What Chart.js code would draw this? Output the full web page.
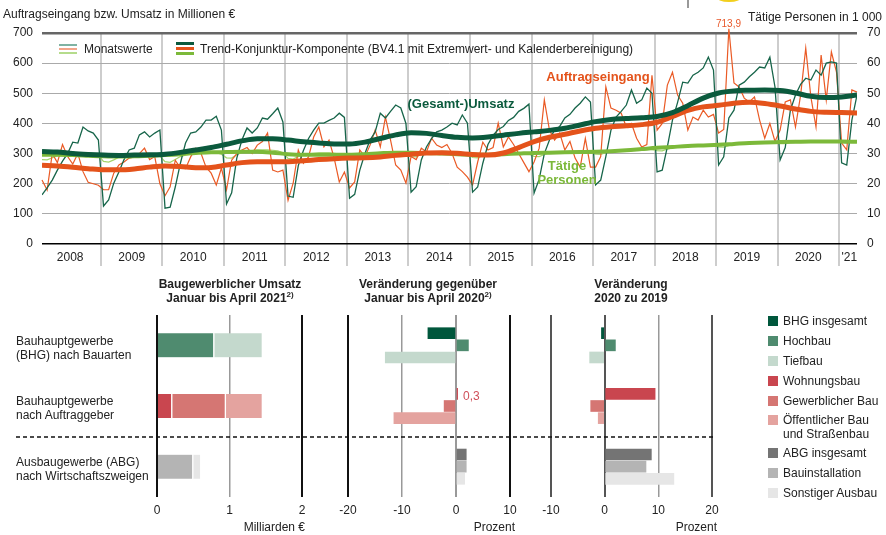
<!DOCTYPE html>
<html lang="de">
<head>
<meta charset="UTF-8">
<title>Baugewerbe</title>
<script src="https://cdn.jsdelivr.net/npm/chart.js@4.4.1/dist/chart.umd.min.js"></script>
<style>
  body { margin: 0; background: #fff; }
  #wrap { position: relative; width: 886px; height: 535px; overflow: hidden; font-family: "Liberation Sans", Arial, sans-serif; color: #222; font-size: 12px; }
  #wrap canvas { position: absolute; }
  .t { position: absolute; white-space: nowrap; line-height: 14px; }
  .b { font-weight: bold; }
  .c { text-align: center; width: 240px; }
  .r { text-align: right; }
  sup { font-size: 8px; line-height: 0; vertical-align: 5px; }
  .ln { position: absolute; }
  .sq { position: absolute; width: 10px; height: 10px; }
</style>
</head>
<body>
<div id="wrap">
  <canvas id="top" width="886" height="275" style="left:0;top:0"></canvas>
  <canvas id="p1" width="175" height="205" style="left:142px;top:315px"></canvas>
  <canvas id="p2" width="192" height="205" style="left:333px;top:315px"></canvas>
  <canvas id="p3" width="191" height="205" style="left:536px;top:315px"></canvas>

  <svg style="position:absolute;left:0;top:0" width="886" height="535">
    <line x1="16" y1="437" x2="716" y2="437" stroke="#111" stroke-width="1.3" stroke-dasharray="4 3"/>
  </svg>

  <!-- Kopf oben -->
  <div class="ln" style="left:687px;top:0;width:1.5px;height:8px;background:#999"></div>
  <div class="ln" style="left:716px;top:-9px;width:26px;height:11px;border-radius:50%;background:#f2cf1d"></div>
  <div class="t" style="left:3px;top:7px">Auftragseingang bzw. Umsatz in Millionen €</div>
  <div class="t" style="right:4px;top:10px">Tätige Personen in 1 000</div>
  <div class="t" style="left:716px;top:17px;font-size:10px;color:#e8582a">713,9</div>

  <!-- Legende oben -->
  <div class="ln" style="left:59px;top:44px;width:18px;height:1.6px;background:#7fb3a3"></div>
  <div class="ln" style="left:59px;top:48px;width:18px;height:1.6px;background:#f2a58a"></div>
  <div class="ln" style="left:59px;top:52px;width:18px;height:1.6px;background:#b5dc8c"></div>
  <div class="t" style="left:84px;top:42px">Monatswerte</div>
  <div class="ln" style="left:176px;top:42px;width:18px;height:3px;background:#0b5a3d"></div>
  <div class="ln" style="left:176px;top:47px;width:18px;height:3px;background:#e4531b"></div>
  <div class="ln" style="left:176px;top:52px;width:18px;height:3px;background:#7cb93a"></div>
  <div class="t" style="left:200px;top:42px">Trend-Konjunktur-Komponente (BV4.1 mit Extremwert- und Kalenderbereinigung)</div>

  <!-- Reihenbeschriftung -->
  <div class="t b c" style="left:341px;top:97px;font-size:13px;color:#0b5a3d">(Gesamt-)Umsatz</div>
  <div class="t b c" style="left:478px;top:70px;font-size:13px;color:#e4531b">Auftragseingang</div>
  <div class="t b c" style="left:447px;top:159px;font-size:13px;color:#7cb93a">Tätige</div>
  <div class="t b c" style="left:447px;top:173px;font-size:13px;color:#7cb93a">Personen</div>

  <!-- Titel unten -->
  <div class="t b c" style="left:110px;top:277px">Baugewerblicher Umsatz</div>
  <div class="t b c" style="left:110px;top:291px">Januar bis April 2021<sup>2)</sup></div>
  <div class="t b c" style="left:308px;top:277px">Veränderung gegenüber</div>
  <div class="t b c" style="left:308px;top:291px">Januar bis April 2020<sup>2)</sup></div>
  <div class="t b c" style="left:511px;top:277px">Veränderung</div>
  <div class="t b c" style="left:511px;top:291px">2020 zu 2019</div>

  <div class="t" style="left:16px;top:334px">Bauhauptgewerbe</div>
  <div class="t" style="left:16px;top:348px">(BHG) nach Bauarten</div>
  <div class="t" style="left:16px;top:394px">Bauhauptgewerbe</div>
  <div class="t" style="left:16px;top:408px">nach Auftraggeber</div>
  <div class="t" style="left:16px;top:455px">Ausbaugewerbe (ABG)</div>
  <div class="t" style="left:16px;top:469px">nach Wirtschaftszweigen</div>

  <div class="t r" style="right:581px;top:520px">Milliarden €</div>
  <div class="t r" style="right:371px;top:520px">Prozent</div>
  <div class="t r" style="right:169px;top:520px">Prozent</div>
  <div class="t" style="left:463px;top:389px;color:#d0505a">0,3</div>

  <div id="legende"></div>
</div>

<script>
// ---------- Daten oben: Monatswerte Jan 2008 bis Apr 2021 ----------
var umsatz = [
  163, 186, 212, 245, 275, 300, 338, 335, 388, 375, 368, 345,   // 2008
  126, 146, 202, 239, 280, 312, 318, 362, 372, 355, 368, 378,   // 2009
  119, 122, 189, 268, 335, 368, 372, 388, 411, 411, 424, 378,   // 2010
  133, 170, 285, 345, 385, 368, 385, 418, 414, 432, 451, 405,   // 2011
  159, 155, 260, 310, 350, 378, 401, 401, 410, 418, 434, 420,   // 2012
  152, 165, 245, 300, 345, 372, 434, 418, 440, 461, 451, 400,   // 2013
  172, 190, 279, 322, 350, 372, 378, 388, 401, 395, 428, 401,   // 2014
  172, 189, 268, 330, 360, 380, 390, 410, 420, 440, 450, 464,   // 2015
  169, 215, 300, 345, 378, 390, 418, 430, 451, 467, 488, 471,   // 2016
  196, 212, 290, 378, 421, 440, 461, 511, 467, 478, 517, 500,   // 2017
  239, 245, 322, 411, 470, 537, 534, 560, 570, 584, 620, 577,   // 2018
  262, 289, 418, 444, 527, 537, 555, 570, 587, 584, 620, 521,   // 2019
  279, 320, 444, 494, 530, 550, 544, 577, 560, 600, 604, 600,   // 2020
  269, 262, 411, 494                                            // 2021
];
var auftrag = [
  212, 179, 300, 270, 330, 290, 265, 300, 240, 205, 200, 195,
  180, 180, 235, 262, 272, 285, 289, 300, 318, 280, 290, 200,
  160, 190, 278, 252, 250, 289, 318, 302, 255, 235, 196, 252,
  180, 278, 300, 312, 320, 300, 328, 340, 368, 245, 239, 245,
  145, 202, 312, 268, 289, 355, 388, 322, 345, 285, 206, 239,
  186, 206, 312, 289, 328, 378, 322, 421, 345, 262, 245, 202,
  290, 280, 318, 305, 351, 328, 320, 330, 300, 255, 240, 222,
  196, 272, 338, 312, 320, 401, 322, 355, 330, 300, 270, 240,
  272, 318, 478, 378, 345, 368, 312, 340, 285, 255, 350, 255,
  255, 290, 521, 451, 444, 434, 388, 400, 351, 322, 330, 560,
  378, 400, 527, 570, 494, 467, 378, 421, 411, 444, 421, 430,
  368, 380, 713.9, 534, 521, 484, 471, 488, 411, 351, 400, 340,
  378, 471, 478, 388, 494, 650, 488, 388, 627, 478, 637, 570,
  335, 312, 511, 504
];
var personen = [
  28.0, 27.9, 28.6, 29.3, 29.6, 29.8, 30.0, 30.1, 30.2, 30.2, 30.0, 29.4,
  27.4, 27.2, 27.9, 28.8, 29.2, 29.4, 29.6, 29.8, 29.9, 29.9, 29.7, 29.2,
  27.3, 27.1, 28.0, 29.0, 29.5, 29.8, 30.1, 30.3, 30.4, 30.5, 30.3, 29.8,
  28.6, 28.5, 29.6, 30.4, 30.8, 31.0, 31.2, 31.2, 31.2, 31.1, 30.9, 30.3,
  28.4, 28.2, 29.0, 29.6, 29.9, 30.1, 30.2, 30.2, 30.2, 30.1, 29.9, 29.4,
  28.0, 27.9, 28.6, 29.4, 29.8, 30.0, 30.1, 30.2, 30.2, 30.1, 30.0, 29.6,
  29.0, 28.9, 29.8, 30.3, 30.5, 30.6, 30.7, 30.7, 30.6, 30.5, 30.3, 29.9,
  28.7, 28.6, 29.3, 29.8, 30.0, 30.1, 30.2, 30.3, 30.3, 30.3, 30.2, 29.9,
  29.1, 29.0, 29.7, 30.2, 30.4, 30.5, 30.6, 30.7, 30.7, 30.7, 30.6, 30.3,
  29.8, 29.7, 30.3, 30.7, 30.9, 31.0, 31.2, 31.4, 31.5, 31.6, 31.6, 31.3,
  31.0, 30.9, 31.5, 31.9, 32.1, 32.3, 32.5, 32.6, 32.7, 32.8, 32.8, 32.5,
  32.2, 32.1, 32.6, 33.0, 33.2, 33.4, 33.5, 33.6, 33.7, 33.8, 33.8, 33.5,
  33.3, 33.3, 33.7, 33.9, 34.0, 34.1, 34.1, 34.2, 34.2, 34.2, 34.1, 33.9,
  33.6, 33.5, 33.9, 34.1
];

// Trend-Konjunktur-Komponente, Stützstellen je Quartal (Monatsindex ab Jan 2008)
var trendMonat = [0, 3, 6, 9, 12, 15, 18, 21, 24, 27, 30, 33, 36, 39, 42, 45, 48, 51, 54, 57,
  60, 63, 66, 69, 72, 75, 78, 81, 84, 87, 90, 93, 96, 99, 102, 105, 108, 111, 114, 117,
  120, 123, 126, 129, 132, 135, 138, 141, 144, 147, 150, 153, 156, 159];
var umsatzTrend = [307, 305, 300, 297, 295, 294, 295, 296, 298, 304, 312, 320, 331, 342, 349, 349, 345, 339, 335, 332,
  332, 338, 350, 362, 369, 367, 360, 354, 352, 355, 361, 367, 372, 377, 384, 395, 406, 413, 416, 419,
  423, 436, 459, 484, 501, 508, 510, 511, 509, 501, 490, 486, 488, 494];
var auftragTrend = [261, 259, 255, 250, 246, 246, 249, 255, 259, 257, 253, 254, 262, 270, 273, 273, 273, 276, 280, 283,
  285, 286, 289, 294, 298, 302, 303, 301, 297, 295, 302, 320, 340, 354, 364, 375, 384, 389, 392, 396,
  404, 423, 443, 455, 460, 467, 470, 466, 458, 448, 440, 437, 436, 435];
var personenTrend = [29.6, 29.6, 29.5, 29.3, 29.1, 29.0, 29.1, 29.3, 29.5, 29.8, 30.2, 30.4, 30.5, 30.6, 30.6, 30.3, 29.8, 29.6, 29.6, 29.6,
  29.6, 29.8, 30.1, 30.3, 30.3, 30.2, 30.0, 29.8, 29.6, 29.6, 29.8, 30.0, 30.2, 30.3, 30.4, 30.5, 30.6, 30.8, 31.1, 31.5,
  31.9, 32.2, 32.5, 32.7, 32.9, 33.2, 33.5, 33.7, 33.8, 33.9, 34.0, 34.0, 34.0, 33.9];

var ersterJahr = 2008;

// ---------- Daten unten ----------
var zeilen = ['', 'BHG insgesamt', 'Hochbau', 'Tiefbau', '', '', 'Wohnungsbau', 'Gewerblicher Bau',
  'Öffentlicher Bau und Straßenbau', '', '', 'ABG insgesamt', 'Bauinstallation', 'Sonstiger Ausbau', ''];
var farben = {
  'BHG insgesamt': '#00573c', 'Hochbau': '#4f8b6f', 'Tiefbau': '#c4d9cd',
  'Wohnungsbau': '#c9464f', 'Gewerblicher Bau': '#d57673', 'Öffentlicher Bau und Straßenbau': '#e4a39f',
  'ABG insgesamt': '#747474', 'Bauinstallation': '#b4b4b4', 'Sonstiger Ausbau': '#e6e6e6'
};

// Umsatz Jan-Apr 2021 in Mrd. €, gestapelt je Gruppe
var umsatzTeile = ['Hochbau', 'Tiefbau', 'Wohnungsbau', 'Gewerblicher Bau', 'Öffentlicher Bau und Straßenbau', 'Bauinstallation', 'Sonstiger Ausbau'];
var umsatzMrd = [0.79, 0.67, 0.21, 0.74, 0.51, 0.50, 0.11];
var umsatzGruppe = ['BHG', 'BHG', 'AG', 'AG', 'AG', 'ABG', 'ABG'];
var gruppenZeile = { BHG: 2, AG: 7, ABG: 12 };

// Veränderung in %
var veraenderung2021 = [null, -5.2, 2.3, -13.1, null, null, 0.3, -2.2, -11.5, null, null, 1.9, 1.9, 1.6, null];
var veraenderung2020 = [null, -0.6, 2.0, -2.8, null, null, 9.4, -2.6, -1.2, null, null, 8.7, 7.7, 12.9, null];

Chart.defaults.font.family = '"Liberation Sans", Arial, sans-serif';
Chart.defaults.font.size = 12;
Chart.defaults.color = '#222';

function punkte(werte, monate) {
  return werte.map(function (v, i) { return { x: (monate ? monate[i] : i) + 0.5, y: v }; });
}

// Achsenmarken: Jahresgrenzen (Gitter) und Jahresmitten (Beschriftung)
var jahrTicks = [];
for (var m = 6; m <= 156; m += 6) jahrTicks.push(m);
jahrTicks.push(158);

new Chart(document.getElementById('top'), {
  type: 'line',
  data: {
    datasets: [
      { data: punkte(umsatzTrend, trendMonat), borderColor: '#0b5a3d', borderWidth: 5, yAxisID: 'y', order: 0, cubicInterpolationMode: 'monotone' },
      { data: punkte(auftragTrend, trendMonat), borderColor: '#e4531b', borderWidth: 5, yAxisID: 'y', order: 1, cubicInterpolationMode: 'monotone' },
      { data: punkte(personenTrend, trendMonat), borderColor: '#7cb93a', borderWidth: 4, yAxisID: 'y2', order: 2, cubicInterpolationMode: 'monotone' },
      { data: punkte(umsatz), borderColor: '#17654a', borderWidth: 1.3, yAxisID: 'y', order: 3 },
      { data: punkte(auftrag), borderColor: '#ea5a25', borderWidth: 1.2, yAxisID: 'y', order: 4, clip: false },
      { data: punkte(personen), borderColor: '#a3d36a', borderWidth: 1.2, yAxisID: 'y2', order: 5 }
    ]
  },
  options: {
    responsive: false,
    animation: false,
    elements: { point: { radius: 0 }, line: { tension: 0 } },
    layout: { padding: { top: 33, left: 0, right: 0, bottom: 0 } },
    plugins: { legend: { display: false }, tooltip: { enabled: false } },
    scales: {
      x: {
        type: 'linear', min: 0.5, max: 159.5,
        afterBuildTicks: function (s) { s.ticks = jahrTicks.map(function (v) { return { value: v }; }); },
        afterFit: function (s) { s.height = 31; },
        grid: {
          color: function (ctx) { return ctx.tick && ctx.tick.value % 12 === 0 ? '#cdcdcd' : 'rgba(0,0,0,0)'; },
          lineWidth: 2, tickLength: 22
        },
        border: { display: false },
        ticks: {
          autoSkip: false, maxRotation: 0, padding: -16,
          callback: function (v) {
            if (v === 158) return "'21";
            return v % 12 === 6 ? String(ersterJahr + (v - 6) / 12) : '';
          }
        }
      },
      y: {
        position: 'left', min: 0, max: 700,
        afterFit: function (s) { s.width = 42; },
        ticks: { stepSize: 100, padding: 9 },
        grid: {
          drawTicks: false,
          color: function (ctx) { var v = ctx.tick.value; return v === 0 ? '#000' : (v === 700 ? '#666' : '#aaa'); },
          lineWidth: function (ctx) { var v = ctx.tick.value; return v === 700 ? 2.5 : (v === 0 ? 1.5 : 1); }
        },
        border: { display: false }
      },
      y2: {
        position: 'right', min: 0, max: 70,
        afterFit: function (s) { s.width = 29; },
        ticks: { stepSize: 10, padding: 10 },
        grid: { display: false, drawTicks: false },
        border: { display: false }
      }
    }
  }
});

// ---------- Balkenpanels ----------
function panel(id, min, max, step, gitter, datasets) {
  return new Chart(document.getElementById(id), {
    type: 'bar',
    data: { labels: zeilen, datasets: datasets },
    options: {
      indexAxis: 'y',
      responsive: false,
      animation: false,
      layout: { padding: { left: 15, right: 15, top: 0, bottom: 0 } },
      plugins: { legend: { display: false }, tooltip: { enabled: false } },
      scales: {
        x: {
          type: 'linear', min: min, max: max, stacked: true,
          afterFit: function (s) { s.height = 23; },
          ticks: { stepSize: step, padding: 6 },
          grid: {
            drawTicks: false,
            color: function (ctx) { return gitter[ctx.tick.value][0]; },
            lineWidth: function (ctx) { return gitter[ctx.tick.value][1]; }
          },
          border: { display: false }
        },
        y: { type: 'category', display: false, stacked: true }
      }
    }
  });
}

var umsatzSets = umsatzTeile.map(function (teil, i) {
  var z = gruppenZeile[umsatzGruppe[i]];
  return {
    data: zeilen.map(function (_, r) { return r === z ? umsatzMrd[i] : null; }),
    backgroundColor: farben[teil], borderColor: '#fff',
    borderWidth: { left: 0, right: 1.5, top: 0, bottom: 0 },
    barThickness: 24, stack: 'u', borderSkipped: false
  };
});
panel('p1', 0, 2, 1, { 0: ['#111', 2], 1: ['#999', 1.5], 2: ['#111', 2] }, umsatzSets);

function aenderungSet(werte) {
  return [{
    data: werte,
    backgroundColor: zeilen.map(function (z) { return farben[z] || '#fff'; }),
    borderWidth: 0,
    barThickness: 11
  }];
}
panel('p2', -20, 10, 10, { '-20': ['#111', 2], '-10': ['#999', 1.5], 0: ['#999', 2], 10: ['#111', 2] }, aenderungSet(veraenderung2021));
panel('p3', -10, 20, 10, { '-10': ['#555', 2], 0: ['#555', 2], 10: ['#999', 1.5], 20: ['#555', 2] }, aenderungSet(veraenderung2020));

// ---------- Legende unten ----------
var legendeY = { 'BHG insgesamt': 321, 'Hochbau': 341, 'Tiefbau': 361, 'Wohnungsbau': 381, 'Gewerblicher Bau': 401,
  'Öffentlicher Bau und Straßenbau': 420, 'ABG insgesamt': 453, 'Bauinstallation': 473, 'Sonstiger Ausbau': 493 };
var leg = document.getElementById('legende');
Object.keys(farben).forEach(function (name) {
  var y = legendeY[name];
  var sq = document.createElement('div');
  sq.className = 'sq';
  sq.style.left = '768px'; sq.style.top = (y - 5) + 'px'; sq.style.background = farben[name];
  leg.appendChild(sq);
  var t = document.createElement('div');
  t.className = 't';
  t.style.left = '783px'; t.style.top = (y - 7) + 'px';
  t.innerHTML = name === 'Öffentlicher Bau und Straßenbau' ? 'Öffentlicher Bau<br>und Straßenbau' : name;
  leg.appendChild(t);
});
</script>
</body>
</html>
